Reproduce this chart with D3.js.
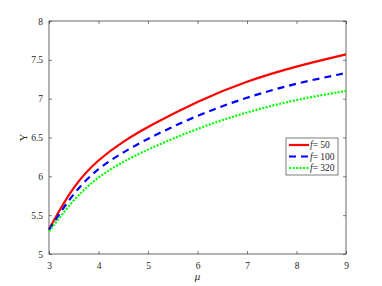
<!DOCTYPE html>
<html>
<head>
<script src="https://d3js.org/d3.v7.min.js"></script>
<style>
  body { margin: 0; background: #fff; }
  svg text { font-family: "Liberation Serif", "Times New Roman", serif; }
</style>
</head>
<body>
<svg id="chart" width="382" height="286"></svg>
<script>
  // values
  const mu = [3, 3.5, 4, 4.5, 5, 6, 7, 8, 9];
  const f50 = [5.32, 5.89, 6.22, 6.45, 6.64, 6.97, 7.23, 7.42, 7.57];
  const f100 = [5.31, 5.80, 6.11, 6.31, 6.49, 6.79, 7.02, 7.20, 7.33];
  const f320 = [5.29, 5.71, 6.00, 6.19, 6.35, 6.62, 6.83, 6.99, 7.10];
  const xTicks = [3, 4, 5, 6, 7, 8, 9];
  const yTicks = [5, 5.5, 6, 6.5, 7, 7.5, 8];
  const seriesNames = ["50", "100", "320"];

  const series = [
    { name: seriesNames[0], vals: f50, color: "#ff0000", dash: null, width: 2.2 },
    { name: seriesNames[1], vals: f100, color: "#0000ff", dash: "7,5", width: 2.2 },
    { name: seriesNames[2], vals: f320, color: "#00ff00", dash: "2,1.5", width: 2.2 }
  ];

  const svg = d3.select("#chart");
  const m = { left: 49, right: 36, top: 21, bottom: 32 };
  const w = 382, h = 286;

  const x = d3.scaleLinear([3, 9], [m.left, w - m.right]);
  const y = d3.scaleLinear([5, 8], [h - m.bottom, m.top]);

  const axisCol = "#262626";
  const serif = "'Liberation Serif', 'Times New Roman', serif";
  const tickStyle = g => {
    g.attr("font-family", serif).attr("font-size", 9.5);
    g.select(".domain").remove();
    g.selectAll("line").attr("stroke", axisCol).attr("stroke-width", 0.6);
    g.selectAll("text").attr("fill", axisCol);
  };

  // bottom / left axes with inward ticks
  svg.append("g").attr("transform", `translate(0,${h - m.bottom})`)
    .call(d3.axisBottom(x).tickValues(xTicks).tickFormat(d3.format("")).tickSizeInner(-3).tickSizeOuter(0).tickPadding(8))
    .call(tickStyle);
  svg.append("g").attr("transform", `translate(${m.left},0)`)
    .call(d3.axisLeft(y).tickValues(yTicks).tickFormat(d3.format("")).tickSizeInner(-3).tickSizeOuter(0).tickPadding(6))
    .call(tickStyle);
  // top / right ticks only
  svg.append("g").attr("transform", `translate(0,${m.top})`)
    .call(d3.axisTop(x).tickValues(xTicks).tickSizeInner(-3).tickSizeOuter(0).tickFormat(""))
    .call(tickStyle);
  svg.append("g").attr("transform", `translate(${w - m.right},0)`)
    .call(d3.axisRight(y).tickValues(yTicks).tickSizeInner(-3).tickSizeOuter(0).tickFormat(""))
    .call(tickStyle);

  // box
  svg.append("rect")
    .attr("x", m.left).attr("y", m.top)
    .attr("width", w - m.left - m.right).attr("height", h - m.top - m.bottom)
    .attr("fill", "none").attr("stroke", axisCol).attr("stroke-width", 0.7);

  const line = d3.line().x((d, i) => x(mu[i])).y(d => y(d)).curve(d3.curveBasis);

  series.forEach(s => {
    svg.append("path")
      .attr("d", line(s.vals))
      .attr("fill", "none")
      .attr("stroke", s.color)
      .attr("stroke-width", s.width)
      .attr("stroke-dasharray", s.dash);
  });

  // axis labels
  svg.append("text")
    .attr("x", x(6)).attr("y", 280)
    .attr("text-anchor", "middle")
    .attr("font-family", serif)
    .style("font-size", "11px").style("font-style", "italic")
    .attr("fill", axisCol)
    .text("μ");
  svg.append("text")
    .attr("transform", `translate(27,${y(6.5)}) rotate(-90)`)
    .attr("text-anchor", "middle")
    .attr("font-family", serif)
    .style("font-size", "11px")
    .attr("fill", axisCol)
    .text("Υ");

  // legend
  const lg = svg.append("g").attr("transform", "translate(286,138)");
  lg.append("rect").attr("width", 52).attr("height", 37)
    .attr("fill", "#fff").attr("stroke", axisCol).attr("stroke-width", 0.6);
  series.forEach((s, i) => {
    const yy = 7 + i * 11.5;
    lg.append("line")
      .attr("x1", 3).attr("x2", 23).attr("y1", yy).attr("y2", yy)
      .attr("stroke", s.color).attr("stroke-width", s.width)
      .attr("stroke-dasharray", s.dash);
    const t = lg.append("text").attr("x", 24).attr("y", yy + 3.2)
      .attr("font-family", serif)
      .style("font-size", "9.5px").attr("fill", axisCol);
    t.append("tspan").style("font-style", "italic").text("f");
    t.append("tspan").text("= " + s.name);
  });
</script>
</body>
</html>
